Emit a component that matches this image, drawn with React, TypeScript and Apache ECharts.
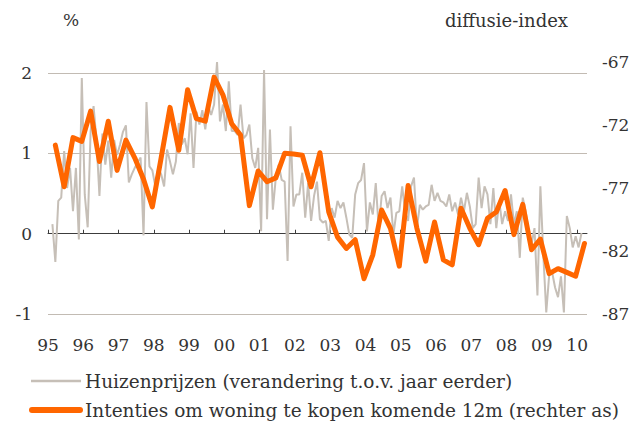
import React, { useEffect, useRef } from "react";
import * as echarts from "echarts";

// Huizenprijzen (% verandering t.o.v. jaar eerder), monthly, Feb 1995 .. Feb 2010
const houseStart = { year: 1995, month: 1 }; // month index 1 = Feb
const housePrices = [
  0.12, -0.35, 0.41, 0.45, 1.03, 0.57, 0.82, 0.28, 0.82, -0.07, 1.94,
  0.49, 0.08, 1.28, 1.59, 1.16, 0.47, 1.25, 0.86, 1.16, 0.70, 1.17, 0.98,
  1.11, 1.27, 1.35, 0.64, 0.74, 0.82, 0.89, 0.95, -0.02, 1.64, 0.84, 0.79,
  0.59, 0.82, 0.74, 0.59, 1.05, 0.90, 0.74, 0.90, 1.38, 1.11, 1.19, 0.99,
  1.50, 0.82, 1.52, 1.36, 1.54, 1.30, 1.59, 1.48, 1.61, 2.14, 1.40, 1.61,
  1.28, 1.90, 1.28, 1.28, 1.23, 1.61, 1.19, 1.23, 1.36, 0.94, 0.82, 1.07,
  0.03, 2.04, 0.18, 1.30, 0.30, 0.70, 0.86, 0.67, 0.65, -0.34, 1.34, 0.34,
  0.49, 0.49, 0.76, 0.20, 0.63, 0.16, 0.47, 0.65, 0.18, 0.14, 0.16, -0.09,
  0.32, 0.20, 0.41, 0.32, 0.39, 0.20, -0.01, -0.05, 0.49, 0.63, 0.67, 0.88,
  0.03, 0.39, 0.24, 0.63, 0.07, 0.47, 0.53, 0.32, 0.45, -0.01, 0.26, 0.28,
  0.59, 0.26, 0.16, 0.59, 0.70, 0.07, 0.36, 0.30, 0.34, 0.36, 0.61, 0.41,
  0.51, 0.41, 0.39, 0.34, 0.49, 0.28, 0.39, 0.24, 0.45, 0.28, 0.51, 0.34,
  0.07, 0.12, 0.70, 0.32, 0.59, 0.49, 0.12, 0.57, 0.07, 0.41, 0.12, 0.28,
  0.16, 0.49, 0.12, 0.28, -0.30, 0.45, 0.28, 0.03, -0.13, 0.07, -0.77, 0.59,
  -0.26, -0.98, -0.51, -0.48, -0.67, -0.79, -0.53, -0.98, 0.22, 0.07, -0.17,
  -0.03, -0.17, 0.01,
];

// Intenties om woning te kopen komende 12m (diffusie-index), quarterly 1995Q1 .. 2010Q1
const intentStart = { year: 1995, month: 2 }; // last month of each quarter
const buyIntentions = [
  -73.6, -76.9, -73.0, -73.3, -70.9, -74.9, -71.7, -75.6, -73.2, -74.6,
  -76.3, -78.5, -74.6, -70.6, -74.0, -69.2, -71.5, -71.7, -68.2, -69.6,
  -71.9, -72.8, -78.4, -75.65, -76.5, -76.2, -74.25, -74.3, -74.4, -76.9,
  -74.2, -78.9, -80.9, -81.8, -81.1, -84.2, -82.3, -78.75, -80.2, -83.2,
  -76.8, -80.2, -82.8, -79.7, -82.7, -83.1, -78.6, -80.2, -81.5, -79.4,
  -78.9, -77.2, -80.7, -78.3, -81.9, -81.05, -83.8, -83.4, -83.7, -84.0,
  -81.4,
];

const yearTicks = [
  1995, 1996, 1997, 1998, 1999, 2000, 2001, 2002, 2003, 2004, 2005, 2006,
  2007, 2008, 2009, 2010,
];
const leftTicks = { min: -1, max: 2.14, interval: 1 };
const rightTicks = { min: -87, max: -67, interval: 5 };

const legendNames = [
  "Huizenprijzen (verandering t.o.v. jaar eerder)",
  "Intenties om woning te kopen komende 12m (rechter as)",
];
const leftUnit = "%";
const rightUnit = "diffusie-index";

const FONT = "'DejaVu Serif', 'Liberation Serif', serif";
const TEXT = "#333333";
const GREY = "#C6BFB7";
const ORANGE = "#FF6600";

const monthX = (start: { year: number; month: number }, i: number, step: number) =>
  start.year + (start.month + i * step + 0.5) / 12;

export default function App() {
  const ref = useRef<HTMLDivElement>(null);

  useEffect(() => {
    if (!ref.current) return;
    const chart = echarts.init(ref.current, undefined, { renderer: "svg" });

    const greyData = housePrices.map((v, i) => [monthX(houseStart, i, 1), v]);
    const orangeData = buyIntentions.map((v, i) => [monthX(intentStart, i, 3), v]);

    const labelStyle = { fontFamily: FONT, fontSize: 17, color: TEXT };

    chart.setOption({
      animation: false,
      backgroundColor: "#ffffff",
      grid: { left: 48, right: 56, top: 62, bottom: 107, containLabel: false },
      xAxis: [
        {
          type: "value",
          min: 1995,
          max: 2010.28,
          position: "bottom",
          axisLine: { show: false, onZero: false },
          axisTick: { show: false },
          splitLine: { show: false },
          axisLabel: {
            ...labelStyle,
            margin: 22,
            customValues: yearTicks,
            formatter: (v: number) => String(Math.round(v) % 100).padStart(2, "0"),
          },
        },
        {
          type: "value",
          min: 1995,
          max: 2010.28,
          position: "top",
          axisLine: { show: true, onZero: true, onZeroAxisIndex: 0, lineStyle: { color: "#3c3c3c", width: 1 } },
          axisTick: { show: true, inside: false, length: 4, customValues: yearTicks, lineStyle: { color: "#3c3c3c", width: 1 } },
          axisLabel: { show: false },
          splitLine: { show: false },
        },
      ],
      yAxis: [
        {
          type: "value",
          position: "left",
          min: leftTicks.min,
          max: leftTicks.max,
          interval: leftTicks.interval,
          axisLine: { show: false },
          axisTick: { show: false },
          axisLabel: {
            ...labelStyle,
            margin: 16,
            showMaxLabel: false,
            formatter: (v: number) => (Number.isInteger(Math.round(v * 1000) / 1000) ? String(Math.round(v)) : ""),
          },
          splitLine: { show: true, showMaxLine: false, lineStyle: { color: "#C2BBB3", width: 1 } },
        },
        {
          type: "value",
          position: "right",
          min: rightTicks.min,
          max: rightTicks.max,
          interval: rightTicks.interval,
          axisLine: { show: false },
          axisTick: { show: false },
          axisLabel: { ...labelStyle, margin: 15 },
          splitLine: { show: false },
        },
      ],
      series: [
        {
          name: legendNames[0],
          type: "line",
          xAxisIndex: 0,
          yAxisIndex: 0,
          data: greyData,
          showSymbol: false,
          symbol: "none",
          lineStyle: { color: GREY, width: 2 },
          z: 2,
        },
        {
          name: legendNames[1],
          type: "line",
          xAxisIndex: 0,
          yAxisIndex: 1,
          data: orangeData,
          showSymbol: false,
          symbol: "none",
          lineStyle: { color: ORANGE, width: 5, cap: "round", join: "round" },
          z: 3,
        },
      ],
      graphic: [
        {
          type: "text",
          x: 71,
          y: 20,
          style: { text: leftUnit, font: `17px ${FONT}`, fill: TEXT, align: "center", verticalAlign: "middle" },
        },
        {
          type: "text",
          x: 568,
          y: 20,
          style: { text: rightUnit, font: `18px ${FONT}`, fill: TEXT, align: "right", verticalAlign: "middle" },
        },
        {
          type: "line",
          shape: { x1: 31, y1: 381, x2: 81, y2: 381 },
          style: { stroke: GREY, lineWidth: 2.5 },
        },
        {
          type: "text",
          x: 85,
          y: 381,
          style: { text: legendNames[0], font: `18.5px ${FONT}`, fill: TEXT, align: "left", verticalAlign: "middle" },
        },
        {
          type: "line",
          shape: { x1: 32, y1: 410, x2: 80, y2: 410 },
          style: { stroke: ORANGE, lineWidth: 6, lineCap: "round" },
        },
        {
          type: "text",
          x: 85,
          y: 410,
          style: { text: legendNames[1], font: `18.5px ${FONT}`, fill: TEXT, align: "left", verticalAlign: "middle" },
        },
      ],
    });

    return () => chart.dispose();
  }, []);

  return (
    <div
      ref={ref}
      style={{ position: "absolute", left: 0, top: 0, width: 643, height: 421, background: "#fff" }}
    />
  );
}
